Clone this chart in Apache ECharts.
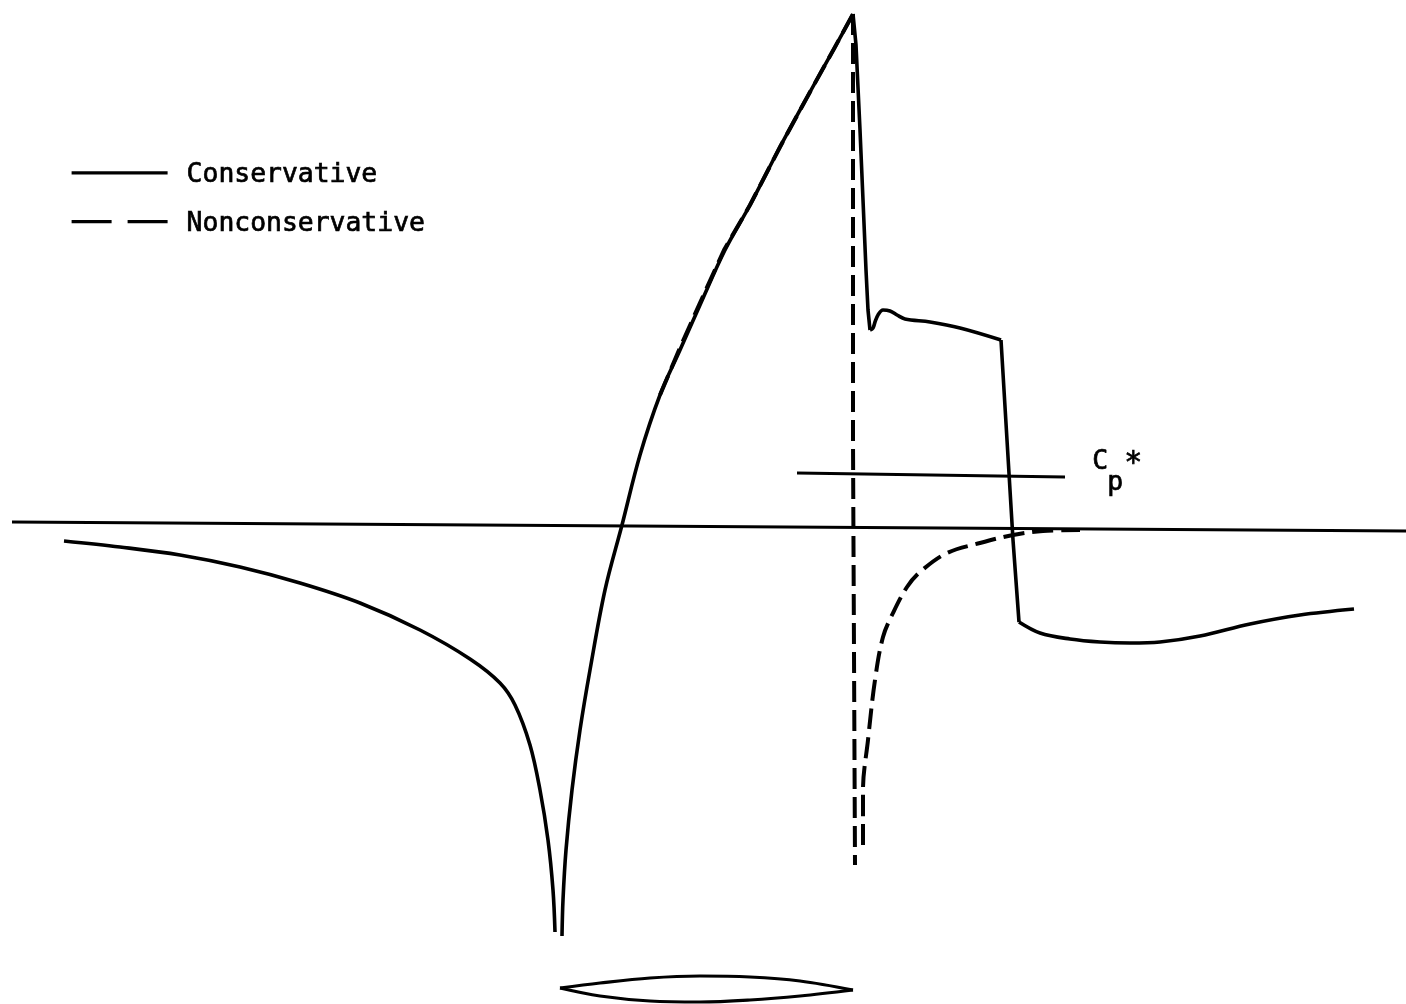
<!DOCTYPE html>
<html>
<head>
<meta charset="utf-8">
<title>Conservative vs nonconservative</title>
<script src="https://cdn.jsdelivr.net/npm/echarts@6/dist/echarts.min.js"></script>
<style>
  html, body { margin: 0; padding: 0; background: #ffffff; }
  #chart { width: 1406px; height: 1004px; }
</style>
</head>
<body>
<div id="chart"></div>
<script>
  // values: x from airfoil leading edge, y from the zero line
  const consNose = [
    [-498, -14], [-442, -20], [-382, -28], [-322, -40], [-262, -56], [-202, -76],
    [-142, -103], [-92, -132], [-62, -156], [-47, -178], [-32, -218], [-22, -263],
    [-14, -313], [-9, -363], [-7, -405]
  ];
  const consRise = [
    [0, -409], [1, -373], [4, -323], [10, -263], [18, -203], [28, -143], [43, -63],
    [60, 2], [78, 72], [98, 132], [118, 177], [138, 222], [163, 277], [188, 322],
    [218, 380], [248, 435], [273, 480], [291, 513]
  ];
  const consShock = [[291, 513], [294, 482], [298, 397], [301, 327], [304, 257], [306, 217], [308, 197]];
  const consBump = [
    [308, 197], [311, 199], [313, 205], [316, 212], [321, 217], [328, 216], [335, 212],
    [343, 208], [368, 205], [398, 199], [439, 187]
  ];
  const consDrop = [[439, 187], [445, 87], [451, -13], [457, -95]];
  const consAft = [
    [457, -95], [478, -106], [508, -112], [538, -115], [568, -116], [598, -115], [638, -109],
    [688, -97], [738, -88], [792, -82]
  ];
  const nonconsRise = [
    [98, 132], [117, 177], [137, 222], [162, 277], [188, 322], [218, 380],
    [248, 435], [273, 480], [291, 513]
  ];
  const nonconsShock = [[291, 513], [291, 87], [293, -338]];
  const nonconsRecovery = [
    [301, -318], [301, -263], [306, -213], [313, -153], [321, -110], [331, -86],
    [345, -60], [358, -45], [385, -26], [418, -16], [451, -8], [481, -4], [518, -3]
  ];
  const zeroLine = [[-550, 5], [844, -4]];
  const criticalLine = [[235, 54], [503, 50]];
  const airfoilUpper = [[-2, -461], [38, -456], [88, -451], [138, -449], [188, -450], [238, -454], [291, -463]];
  const airfoilLower = [[291, -463], [238, -469], [188, -473], [138, -475], [88, -474], [38, -469], [-2, -461]];
  const legendNames = ['Conservative', 'Nonconservative'];

  const chart = echarts.init(document.getElementById('chart'), null, { renderer: 'canvas' });
  const typewriter = '"DejaVu Sans Mono", monospace';
  const inkDash = [21, 8];

  function line(name, data, width, smooth, dash) {
    return {
      name: name,
      type: 'line',
      data: data,
      symbol: 'none',
      silent: true,
      smooth: smooth ? 0.35 : false,
      itemStyle: { color: '#000' },
      lineStyle: { color: '#000', width: width, type: dash || 'solid', join: 'round' }
    };
  }

  function label(text, left, top, size) {
    return {
      type: 'text', left: left, top: top,
      style: { text: text, font: size + 'px ' + typewriter, fill: '#000', stroke: '#000', lineWidth: 0.7 }
    };
  }

  chart.setOption({
    animation: false,
    backgroundColor: '#ffffff',
    grid: { left: 0, right: 0, top: 0, bottom: 0 },
    xAxis: { type: 'value', min: -562, max: 844, show: false },
    yAxis: { type: 'value', min: -477, max: 527, show: false },
    legend: {
      orient: 'vertical',
      left: 65,
      top: 157,
      itemWidth: 96,
      itemHeight: 14,
      itemGap: 22,
      formatter: '{shifted|{name}}',
      textStyle: {
        padding: [0, 0, 0, 14],
        rich: {
          shifted: {
            fontFamily: typewriter, fontSize: 26.4, color: '#000', padding: [5, 0, 0, 0],
            textBorderColor: '#000', textBorderWidth: 0.7
          }
        }
      },
      data: [
        { name: legendNames[0], itemStyle: { opacity: 0 }, lineStyle: { width: 3.2 } },
        { name: legendNames[1], itemStyle: { opacity: 0 }, lineStyle: { width: 3.2, type: [40, 16] } }
      ]
    },
    graphic: [
      label('C', 1092, 449, 26.4),
      label('p', 1107, 470, 26.4),
      label('*', 1124, 449, 30)
    ],
    series: [
      line(legendNames[1], nonconsRise, 4, false, inkDash),
      line(legendNames[1], nonconsShock, 4, false, inkDash),
      line(legendNames[1], nonconsRecovery, 4, true, inkDash),
      line(legendNames[0], consNose, 3.6, true),
      line(legendNames[0], consRise, 3.6, true),
      line(legendNames[0], consShock, 3.6, false),
      line(legendNames[0], consBump, 3.6, true),
      line(legendNames[0], consDrop, 3.6, false),
      line(legendNames[0], consAft, 3.6, true),
      line('Zero line', zeroLine, 3.2, false),
      line('Cp*', criticalLine, 2.8, false),
      line('Airfoil upper', airfoilUpper, 3.2, true),
      line('Airfoil lower', airfoilLower, 3.2, true)
    ]
  });
</script>
</body>
</html>
